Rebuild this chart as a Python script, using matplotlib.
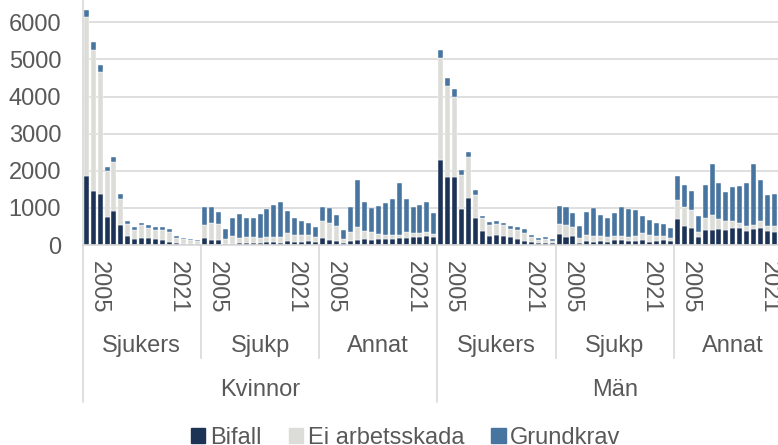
import matplotlib.pyplot as plt
import matplotlib.transforms as mtransforms
from matplotlib.patches import Patch
import numpy as np

plt.rcParams['font.family'] = ['Liberation Sans', 'DejaVu Sans']

# categories
sexes = ["Kvinnor", "Män"]
groups = ["Sjukers", "Sjukp", "Annat"]
years = list(range(2005, 2022))
tick_years = ["2005", "2021"]

# one row per (sex, group), 17 years each
bifall = [
    [1870, 1455, 1380, 745, 925, 540, 240, 170, 190, 180, 155, 145, 90, 60, 35, 25, 20],
    [190, 135, 125, 35, 35, 45, 60, 65, 55, 80, 80, 65, 110, 80, 80, 110, 80],
    [200, 135, 100, 65, 110, 145, 160, 145, 170, 170, 170, 180, 200, 225, 225, 240, 225],
    [2290, 1825, 1840, 960, 1275, 730, 375, 235, 280, 250, 215, 155, 115, 80, 45, 65, 45],
    [305, 215, 245, 65, 100, 80, 100, 80, 125, 125, 115, 100, 145, 90, 100, 145, 100],
    [690, 520, 465, 225, 405, 405, 430, 415, 465, 465, 375, 420, 450, 370, 360, 330, 340],
]
ei_arbetsskada = [
    [4265, 3800, 3290, 1250, 1310, 700, 335, 245, 340, 290, 250, 260, 270, 135, 125, 110, 100],
    [350, 450, 430, 135, 205, 145, 155, 150, 145, 125, 135, 160, 205, 190, 180, 150, 135],
    [440, 450, 420, 90, 240, 340, 215, 195, 125, 110, 90, 100, 140, 105, 100, 120, 70],
    [2755, 2470, 2155, 915, 1085, 630, 340, 315, 285, 280, 225, 260, 215, 135, 100, 100, 70],
    [270, 315, 250, 135, 180, 170, 145, 145, 115, 125, 110, 145, 170, 190, 145, 110, 100],
    [520, 505, 475, 125, 325, 405, 280, 225, 190, 135, 135, 125, 205, 140, 150, 115, 110],
]
grundkrav = [
    [200, 205, 180, 115, 135, 125, 80, 65, 60, 70, 70, 70, 60, 45, 35, 25, 20],
    [475, 440, 330, 260, 485, 645, 510, 520, 645, 755, 870, 935, 600, 460, 375, 340, 270],
    [375, 420, 295, 250, 685, 1255, 775, 665, 745, 845, 980, 1390, 890, 700, 765, 800, 555],
    [200, 200, 205, 135, 145, 115, 80, 60, 70, 70, 65, 70, 100, 45, 45, 55, 35],
    [475, 485, 375, 315, 600, 735, 565, 500, 620, 770, 735, 700, 465, 395, 340, 305, 260],
    [645, 600, 510, 440, 880, 1385, 970, 790, 900, 980, 1160, 1650, 1085, 845, 855, 935, 950],
]

c_bifall = "#1d3356"
c_ei = "#dcdcd8"
c_grund = "#4875a0"
txt = "#595959"
line_c = "#d9d9d9"

W, H = 778, 445
fig = plt.figure(figsize=(W / 100, H / 100), dpi=100)
ax = fig.add_axes([82.7 / W, 1 - 245 / H, (792 - 82.7) / W, 245 / H])

b = np.array(bifall).ravel()
e = np.array(ei_arbetsskada).ravel()
g = np.array(grundkrav).ravel()
x = np.arange(len(b))

ax.bar(x, b, width=0.72, color=c_bifall, edgecolor="white", linewidth=0.3, label="Bifall")
ax.bar(x, e, width=0.72, bottom=b, color=c_ei, edgecolor="white", linewidth=0.3, label="Ei arbetsskada")
ax.bar(x, g, width=0.72, bottom=b + e, color=c_grund, edgecolor="white", linewidth=0.3, label="Grundkrav")

ax.set_xlim(-0.5, len(b) - 0.5)
ax.set_ylim(0, 245 / 37.1 * 1000)
ax.set_yticks(range(0, 7000, 1000))
ax.tick_params(axis="y", length=0, pad=15.5, labelsize=17, labelcolor=txt)
ax.set_xticks([])
ax.set_axisbelow(True)
ax.yaxis.grid(True, color=line_c, linewidth=1.2)
for s in ["top", "right"]:
    ax.spines[s].set_visible(False)
for s in ["left", "bottom"]:
    ax.spines[s].set_color(line_c)
    ax.spines[s].set_linewidth(1.2)

# multi-level category axis below the plot
trans = mtransforms.blended_transform_factory(ax.transData, fig.transFigure)


def fy(px):
    return 1 - px / H


n = len(years)
for k in range(len(sexes) * len(groups) + 1):
    xs = k * n - 0.5
    y_end = 402 if k % len(groups) == 0 else 358
    ax.plot([xs, xs], [fy(245), fy(y_end)], transform=trans, clip_on=False,
            color=line_c, linewidth=1.2)

for k in range(len(sexes) * len(groups)):
    start = k * n
    ax.text(start + 1.8, fy(261), tick_years[0], transform=trans, rotation=270,
            ha="center", va="top", fontsize=17, color=txt)
    ax.text(start + 13.2, fy(261), tick_years[1], transform=trans, rotation=270,
            ha="center", va="top", fontsize=17, color=txt)
    ax.text(start + (n - 1) / 2, fy(352), groups[k % len(groups)], transform=trans,
            ha="center", va="baseline", fontsize=17, color=txt)

for i, sx in enumerate(sexes):
    mid = i * n * len(groups) + (n * len(groups) - 1) / 2
    ax.text(mid, fy(396), sx, transform=trans, ha="center", va="baseline",
            fontsize=17, color=txt)

handles = [Patch(color=c_bifall), Patch(color=c_ei), Patch(color=c_grund)]
fig.legend(handles, ["Bifall", "Ei arbetsskada", "Grundkrav"], loc="upper center",
           bbox_to_anchor=(406 / W, fy(427)), ncol=3, frameon=False, fontsize=17,
           labelcolor=txt, handlelength=0.6, handleheight=0.6, handletextpad=0.2,
           columnspacing=1.15, borderpad=0, borderaxespad=0)

fig.savefig("out.png", dpi=100)
